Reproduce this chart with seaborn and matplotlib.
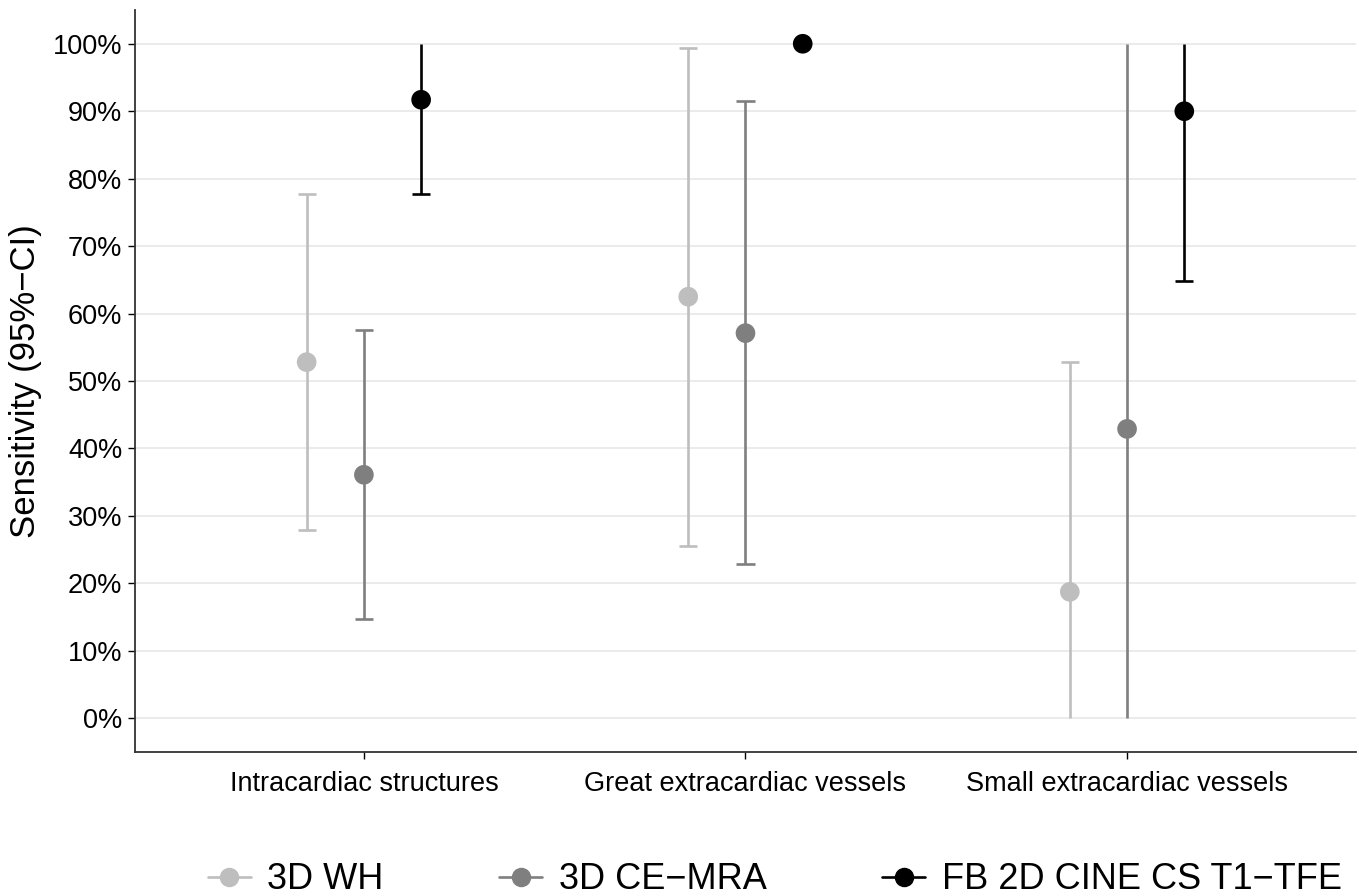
import numpy as np
import pandas as pd
import seaborn as sns
import matplotlib.pyplot as plt
from matplotlib.lines import Line2D
from matplotlib.ticker import PercentFormatter

# data (sensitivity in %, with 95% CI)
categories = ['Intracardiac structures', 'Great extracardiac vessels', 'Small extracardiac vessels']
methods = ['3D WH', '3D CE\u2212MRA', 'FB 2D CINE CS T1\u2212TFE']

wh_est = [52.8, 62.5, 18.75]
wh_low = [27.9, 25.6, 0.0]
wh_high = [77.7, 99.4, 52.8]

ce_est = [36.1, 57.1, 42.9]
ce_low = [14.7, 22.8, 0.0]
ce_high = [57.6, 91.5, 100.0]

fb_est = [91.7, 100.0, 90.0]
fb_low = [77.7, np.nan, 64.8]
fb_high = [100.0, np.nan, 100.0]

colors = ['#BEBEBE', '#7F7F7F', '#000000']

rows = []
for m, est, lo, hi in zip(methods, [wh_est, ce_est, fb_est], [wh_low, ce_low, fb_low],
                          [wh_high, ce_high, fb_high]):
    for i, c in enumerate(categories):
        rows.append(dict(category=c, cat_idx=i, method=m, est=est[i], low=lo[i], high=hi[i]))
df = pd.DataFrame(rows)

# dodge
offsets = dict(zip(methods, [-0.15, 0.0, 0.15]))
df['x'] = df['cat_idx'] + df['method'].map(offsets)

sns.set_theme(style='white')
plt.rcParams['font.family'] = ['Liberation Sans', 'DejaVu Sans']
plt.rcParams['text.color'] = 'black'
plt.rcParams['axes.labelcolor'] = 'black'

fig = plt.figure(figsize=(13.59, 8.96), dpi=100)
ax = fig.add_axes([0.0993, 0.1607, 0.8985, 0.8281])

for y in range(0, 101, 10):
    ax.axhline(y, color='#EBEBEB', lw=1.4, zorder=0)

cap = 0.024
for _, r in df.iterrows():
    col = colors[methods.index(r['method'])]
    if np.isnan(r['low']):
        continue
    ax.vlines(r['x'], r['low'], r['high'], color=col, lw=1.9, zorder=2)
    for end in (r['low'], r['high']):
        if 0 < end < 100:
            ax.hlines(end, r['x'] - cap, r['x'] + cap, color=col, lw=1.9, zorder=2)

sns.scatterplot(data=df, x='x', y='est', hue='method', palette=colors, hue_order=methods,
                s=200, linewidth=0, legend=False, ax=ax, zorder=3)

ax.set_xlim(-0.6, 2.6)
ax.set_ylim(-5, 105)
ax.set_xticks(range(len(categories)))
ax.set_xticklabels(categories)
ax.set_yticks(range(0, 101, 10))
ax.yaxis.set_major_formatter(PercentFormatter(decimals=0))
ax.set_xlabel('')
ax.set_ylabel('Sensitivity (95%\u2212CI)', fontsize=25, labelpad=8)
ax.tick_params(axis='both', labelsize=19.5, colors='black', length=5, width=1,
               direction='out', bottom=True, left=True, pad=4)
ax.tick_params(axis='x', pad=9)
for s in ['top', 'right']:
    ax.spines[s].set_visible(False)
for s in ['left', 'bottom']:
    ax.spines[s].set_color('#333333')
    ax.spines[s].set_linewidth(1.3)

handles = [Line2D([0], [0], color=c, lw=1.9, marker='o', markersize=13) for c in colors]
fig.legend(handles, methods, loc='center', bbox_to_anchor=(0.57, 0.018), ncol=3, frameon=False,
           fontsize=26, handlelength=1.2, handletextpad=0.45, columnspacing=3.2)

fig.savefig('out.png', dpi=100)
